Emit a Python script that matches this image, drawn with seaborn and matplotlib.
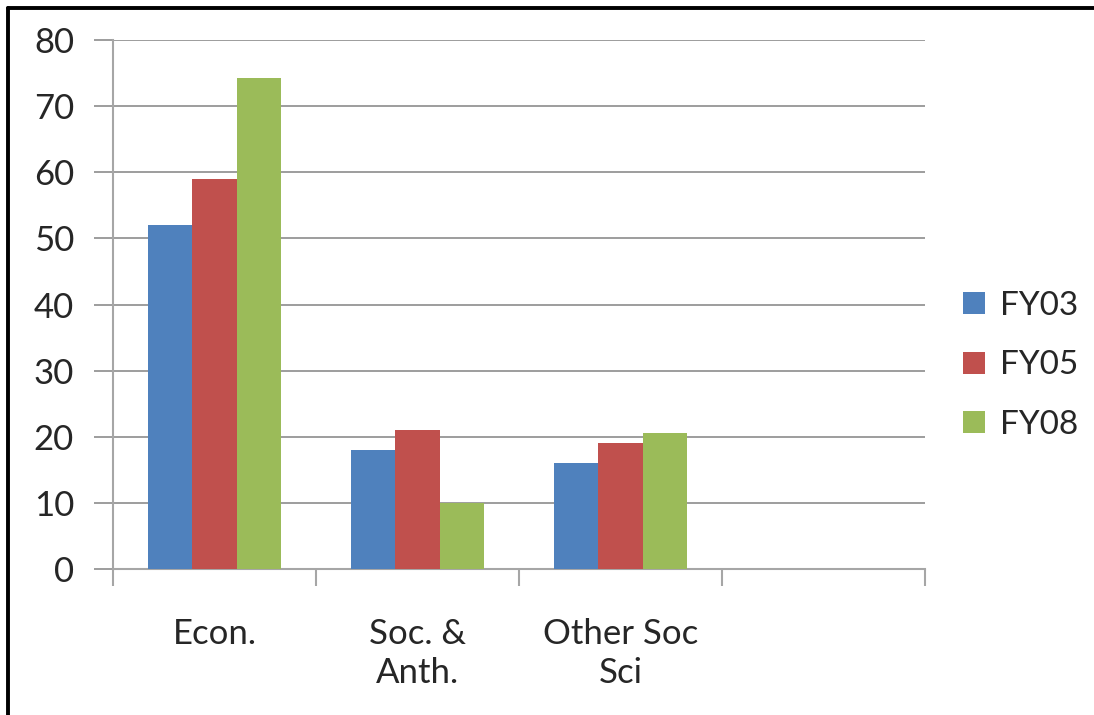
import matplotlib
matplotlib.use("Agg")
import matplotlib.pyplot as plt
from matplotlib.lines import Line2D
import seaborn as sns
import pandas as pd

# data
categories = ["Econ.", "Soc. &\nAnth.", "Other Soc\nSci", ""]
years = ["FY03", "FY05", "FY08"]
fy03 = [52, 18, 16]
fy05 = [59, 21, 19]
fy08 = [74.3, 10, 20.5]
colors = ["#4F81BD", "#C0504D", "#9BBB59"]

rows = []
for yr, vals in zip(years, [fy03, fy05, fy08]):
    for cat, v in zip(categories[:3], vals):
        rows.append({"cat": cat, "year": yr, "value": v})
df = pd.DataFrame(rows)

sns.set_style("white")
plt.rcParams["font.family"] = ["Lato", "DejaVu Sans"]

fig = plt.figure(figsize=(10.94, 7.15), dpi=100)
ax = fig.add_axes([113 / 1094, 1 - 569 / 715, (925 - 113) / 1094, (569 - 40) / 715])

sns.barplot(data=df, x="cat", y="value", hue="year", order=categories,
            hue_order=years, palette=colors, width=0.66, saturation=1,
            edgecolor="none", linewidth=0, ax=ax, zorder=3)

ax.set_xlim(-0.5, 3.5)
ax.set_ylim(0, 80)
ax.set_yticks(range(0, 81, 10))
ax.set_xlabel("")
ax.set_ylabel("")
ax.yaxis.grid(True, color="#8c8c8c", linewidth=1.2, zorder=0)
ax.set_axisbelow(True)

for s in ["top", "right"]:
    ax.spines[s].set_visible(False)
for s in ["left", "bottom"]:
    ax.spines[s].set_color("#a6a6a6")
    ax.spines[s].set_linewidth(1.5)

ax.tick_params(axis="y", direction="out", length=14, width=1.2, color="#8c8c8c",
               labelsize=25, pad=14, left=True)
ax.set_xticks([0, 1, 2, 3])
ax.set_xticklabels(categories, fontsize=25, linespacing=1.3)
ax.set_xticks([-0.5, 0.5, 1.5, 2.5, 3.5], minor=True)
ax.tick_params(axis="x", which="major", length=0, pad=35)
ax.tick_params(axis="x", which="minor", direction="out", length=12, width=1.5,
               color="#a6a6a6", bottom=True)
for lbl in ax.get_xticklabels():
    lbl.set_verticalalignment("top")

leg = ax.legend(loc="center left", bbox_to_anchor=(1.01, 0.385), frameon=False,
                fontsize=24, handlelength=0.65, handleheight=0.65,
                handletextpad=0.45, labelspacing=0.88)

# frame lines on top and left of the figure
fig.add_artist(Line2D([7.5 / 1094, 1], [1 - 7.5 / 715, 1 - 7.5 / 715],
                      color="black", linewidth=2.8, transform=fig.transFigure))
fig.add_artist(Line2D([7.5 / 1094, 7.5 / 1094], [0, 1 - 7.5 / 715],
                      color="black", linewidth=2.8, transform=fig.transFigure))

fig.savefig("out.png", dpi=100, facecolor="white")
